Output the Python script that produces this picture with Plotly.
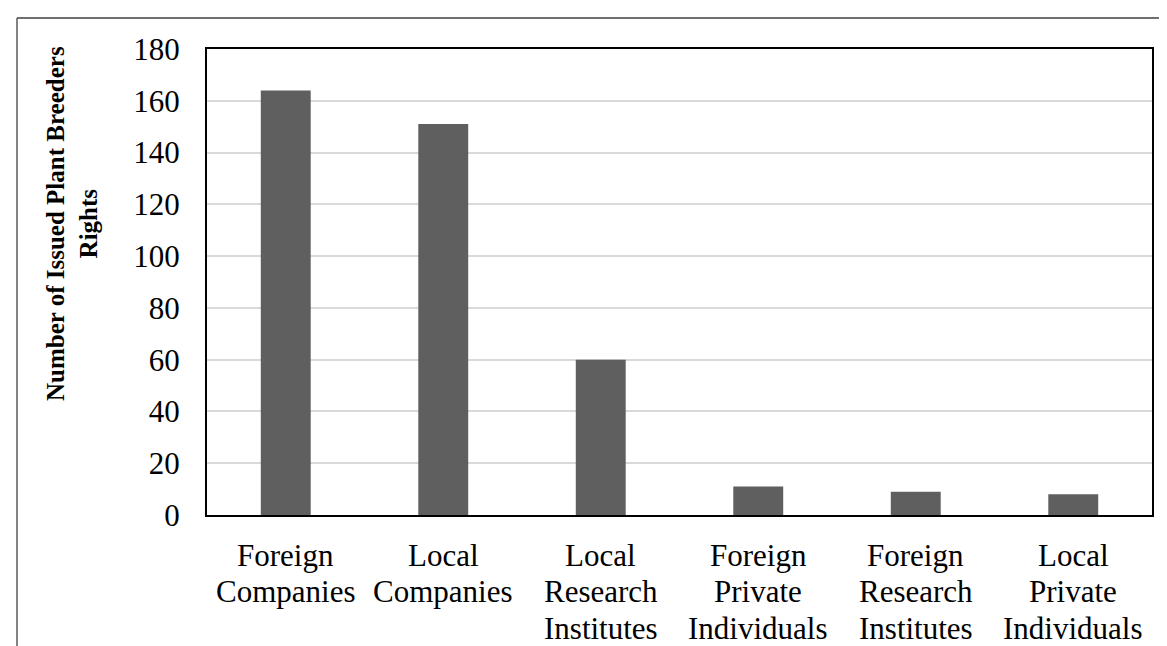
import plotly.graph_objects as go

categories = [
    "Foreign Companies",
    "Local Companies",
    "Local Research Institutes",
    "Foreign Private Individuals",
    "Foreign Research Institutes",
    "Local Private Individuals",
]
category_lines = [
    ["Foreign", "Companies"],
    ["Local", "Companies"],
    ["Local", "Research", "Institutes"],
    ["Foreign", "Private", "Individuals"],
    ["Foreign", "Research", "Institutes"],
    ["Local", "Private", "Individuals"],
]
values = [164, 151, 60, 11, 9, 8]
y_title = "Number of Issued Plant Breeders<br>Rights"

W, H = 1167, 646
L, R, T, B = 199, 23, 41, 139
pw, ph = W - L - R, H - T - B


def px_x(px):
    return (px - L) / pw


def px_y(py):
    return (H - B - py) / ph


FONT = "Liberation Serif, Times New Roman, serif"

fig = go.Figure(
    go.Bar(
        x=categories,
        y=values,
        marker=dict(color="#5f5f5f", line=dict(width=0)),
    )
)

fig.update_layout(
    width=W,
    height=H,
    margin=dict(l=L, r=R, t=T, b=B),
    plot_bgcolor="white",
    paper_bgcolor="white",
    bargap=0.683,
    showlegend=False,
    font=dict(family=FONT, color="black", size=31),
)

fig.update_yaxes(
    range=[0, 180],
    dtick=20,
    showgrid=True,
    gridcolor="#d9d9d9",
    gridwidth=1.5,
    showline=True,
    linecolor="black",
    linewidth=2,
    mirror=True,
    ticks="outside",
    ticklen=19,
    tickcolor="rgba(0,0,0,0)",
    tickfont=dict(family=FONT, size=31, color="black"),
    zeroline=False,
)
fig.update_xaxes(
    showline=True,
    linecolor="black",
    linewidth=2,
    mirror=True,
    showticklabels=False,
    ticks="",
)

# category labels, one text line each (tighter line spacing than plotly's default)
LINE0, LINE_STEP = 547, 36.5
for cat, lines in zip(categories, category_lines):
    for i, line in enumerate(lines):
        fig.add_annotation(
            text=line,
            x=cat,
            xref="x",
            yref="paper",
            y=px_y(LINE0 + LINE_STEP * i),
            xanchor="center",
            yanchor="middle",
            showarrow=False,
            font=dict(family=FONT, size=31, color="black"),
        )

fig.add_annotation(
    text="<b>" + y_title + "</b>",
    xref="paper",
    yref="paper",
    x=px_x(64),
    y=px_y(216),
    xanchor="center",
    yanchor="middle",
    textangle=-90,
    showarrow=False,
    font=dict(family=FONT, size=25, color="black"),
)

# outer frame (left and top edges visible)
fig.add_shape(
    type="line", xref="paper", yref="paper",
    x0=px_x(9), y0=px_y(10), x1=px_x(9), y1=px_y(700),
    line=dict(color="#404040", width=1.3),
)
fig.add_shape(
    type="line", xref="paper", yref="paper",
    x0=px_x(9), y0=px_y(10), x1=px_x(1200), y1=px_y(10),
    line=dict(color="#404040", width=1.3),
)

fig.write_html("out.html")
